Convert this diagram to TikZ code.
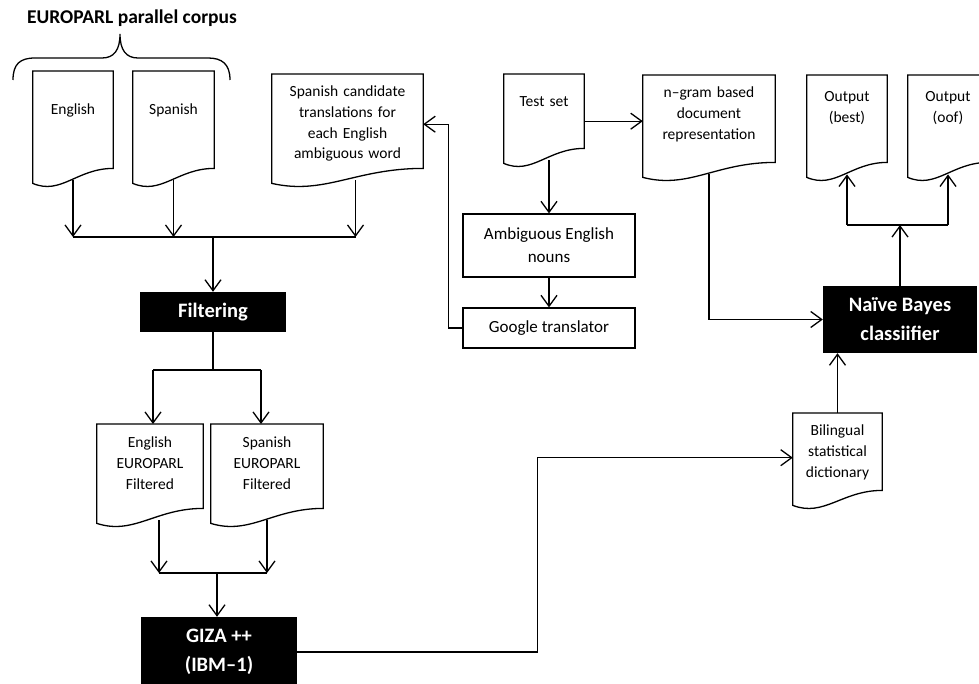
\documentclass[tikz,border=0pt]{standalone}
\usepackage{fontspec}
\setmainfont{Carlito}
\usetikzlibrary{arrows.meta,calc}
\newcommand{\docfont}{\fontsize{15.5}{20.7}\selectfont}
\newcommand{\boxfont}{\fontsize{17}{23.3}\selectfont}
\newcommand{\blkfont}{\fontsize{20.5}{29}\selectfont\bfseries}
\tikzset{
  doc/.style={anchor=north, inner sep=0pt, align=center, font=\docfont},
  plainbox/.style={draw, line width=1.2pt, align=center, font=\boxfont, inner sep=0pt},
  blackbox/.style={fill=black, text=white, align=center, font=\blkfont, inner sep=0pt},
  wire/.style={line width=1.3pt},
  flow/.style={->, line width=1.3pt},
  >={Straight Barb[length=11pt,width=16pt]}
}
\begin{document}
\begin{tikzpicture}[x=1pt,y=-1pt]
\clip (0,0) rectangle (979,684);
% corpus title and brace
\node[font=\fontsize{19.5}{23}\selectfont\bfseries] (corpus) at (132,18) {EUROPARL parallel corpus};
\draw[wire] (13,80) .. controls (13,64) and (20,58) .. (35,58) -- (102,58)
  .. controls (114,58) and (120,50) .. (120,34) .. controls (120,50) and (126,58) .. (138,58)
  -- (208,58) .. controls (222,58) and (230,64) .. (230,80);

% documents
\node[doc, text width=80pt, text height=43.5pt, text depth=65.5pt] (eng) at (73,71) {English};
\node[doc, text width=81pt, text height=43.5pt, text depth=65.5pt] (spa) at (173.5,71) {Spanish};
\node[doc, text width=151pt, text height=22.5pt, text depth=83.5pt] (cand) at (347.5,74)
  {Spanish candidate\\translations for\\each English\\ambiguous word};
\node[doc, text width=80pt, text height=32.5pt, text depth=53.5pt] (test) at (544,74) {Test set};
\node[doc, text width=132pt, text height=22.5pt, text depth=76.5pt] (ngram) at (709,75)
  {n–gram based\\document\\representation};
\node[doc, text width=80pt, text height=26.5pt, text depth=72.5pt] (outb) at (847,75) {Output\\(best)};
\node[doc, text width=80pt, text height=26.5pt, text depth=72.5pt] (outo) at (948,75) {Output\\(oof)};
\node[doc, text width=106pt, text height=23.5pt, text depth=72.5pt] (engf) at (150,424)
  {English\\EUROPARL\\Filtered};
\node[doc, text width=112pt, text height=23.5pt, text depth=72.5pt] (spaf) at (267,424)
  {Spanish\\EUROPARL\\Filtered};
\node[doc, text width=89pt, text height=22.5pt, text depth=66.5pt] (bil) at (837.5,413)
  {Bilingual\\statistical\\dictionary};
\foreach \d in {eng,spa,cand,test,ngram,outb,outo,engf,spaf,bil}
  \draw[wire] ($(\d.south west)+(0,3)$) -- (\d.north west) -- (\d.north east)
    -- ($(\d.south east)+(0,-12)$)
    .. controls ($(\d.south west)!0.55!(\d.south east)+(0,-12)$)
    and ($(\d.south west)!0.35!(\d.south east)+(0,15)$) .. ($(\d.south west)+(0,3)$) -- cycle;

% process boxes
\node[blackbox, minimum width=146pt, minimum height=40pt] (filt) at (213,312) {Filtering};
\node[plainbox, minimum width=172pt, minimum height=63pt] (amb) at (549,245.5) {Ambiguous English\\nouns};
\node[plainbox, minimum width=172pt, minimum height=40pt] (goog) at (549,328) {Google translator};
\node[blackbox, minimum width=154pt, minimum height=67pt] (nb) at (900,319.5) {Naïve Bayes\\classiifier};
\node[blackbox, minimum width=156pt, minimum height=70pt] (giza) at (219,652) {GIZA ++\\(IBM–1)};

% corpus -> filtering
\coordinate (j1) at (213,237);
\draw[flow] (eng.south) -- (eng.south |- j1);
\draw[flow] (spa.south) -- (spa.south |- j1);
\draw[flow] ([xshift=8pt]cand.south) -- ([xshift=8pt]cand.south |- j1);
\draw[wire] (eng.south |- j1) -- ([xshift=8pt]cand.south |- j1);
\draw[flow] (j1) -- (filt.north);
% filtering -> filtered corpora -> giza
\coordinate (j2) at (213,370);
\draw[wire] (filt.south) -- (j2);
\draw[wire] ([xshift=3pt]engf.north |- j2) -- ([xshift=-6pt]spaf.north |- j2);
\draw[flow] ([xshift=3pt]engf.north |- j2) -- ([xshift=3pt]engf.north);
\draw[flow] ([xshift=-6pt]spaf.north |- j2) -- ([xshift=-6pt]spaf.north);
\coordinate (j3) at (217,573);
\draw[flow] ([xshift=9pt]engf.south) -- ([xshift=9pt]engf.south |- j3);
\draw[flow] (spaf.south) -- (spaf.south |- j3);
\draw[wire] ([xshift=9pt]engf.south |- j3) -- (spaf.south |- j3);
\draw[flow] (j3) -- (j3 |- giza.north);
\draw[flow] (giza.east) -- ++(240,0) |- (bil.west);
% test set branch
\draw[flow] ([yshift=-4pt]test.east) -- ([yshift=-4pt]test.east -| ngram.west);
\draw[flow] (test.south -| amb.north) -- (amb.north);
\draw[flow] (amb.south) -- (goog.north);
\draw[flow] (goog.west) -- ++(-14,0) |- ([yshift=3pt]cand.east);
% classifier
\draw[flow] (ngram.south) |- (nb.west);
\draw[flow] (bil.north) -- (bil.north |- nb.south);
\coordinate (j4) at (900,225);
\draw[flow] (nb.north) -- (j4);
\draw[wire] (j4 -| outb.south) -- (j4 -| outo.south);
\draw[flow] (j4 -| outb.south) -- (outb.south);
\draw[flow] (j4 -| outo.south) -- (outo.south);
\end{tikzpicture}
\end{document}
